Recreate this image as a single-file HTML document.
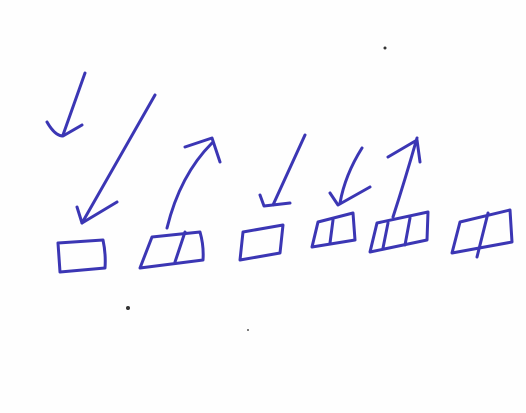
<!DOCTYPE html>
<html><head><meta charset="utf-8"><style>
html,body{margin:0;padding:0;background:#fff;width:526px;height:413px;overflow:hidden}
svg{display:block}
path{fill:none;stroke:#3b36b4;stroke-width:3;stroke-linecap:round;stroke-linejoin:round}
</style></head><body>
<svg width="526" height="413" viewBox="0 0 526 413">
<rect width="526" height="413" fill="#fefefe"/>
<g><path d="M85 73 L63 135"/><path d="M47 122 Q55 136 63 136 L82 125"/></g>
<g><path d="M155 95 L82 223"/><path d="M77 207 L82 223 L117 202"/></g>
<g><path d="M58 243 L103 240 Q106 254 105 268 L60 272 Z"/></g>
<g><path d="M152 237 L200 232 Q204 246 203 260 L140 268 Z"/><path d="M185 232 L175 262"/></g>
<g><path d="M167 228 Q180 175 212 143"/><path d="M185 147 L212 138 L220 162"/></g>
<g><path d="M243 232 L283 225 L280 253 L240 260 Z"/></g>
<g><path d="M305 135 L273 205"/><path d="M260 195 L264 206 L290 203"/></g>
<g><path d="M318 222 L353 213 L355 240 L312 247 Z"/><path d="M333 220 L330 243"/></g>
<g><path d="M362 148 Q345 175 340 203"/><path d="M330 193 L338 205 L370 187"/></g>
<g><path d="M377 223 L428 212 L427 240 L370 252 Z"/><path d="M388 223 L383 248"/><path d="M410 218 L405 245"/></g>
<g><path d="M393 217 Q405 180 417 138"/><path d="M388 157 L417 140 L420 162"/></g>
<g><path d="M460 222 L510 210 L512 242 L452 253 Z"/><path d="M488 213 L477 257"/></g>
<circle cx="385" cy="48" r="1.5" fill="#333"/>
<circle cx="128" cy="308" r="2" fill="#333"/>
<circle cx="248" cy="330" r="1" fill="#555"/>
</svg>
</body></html>
